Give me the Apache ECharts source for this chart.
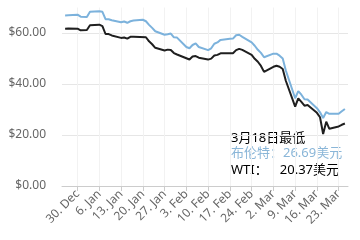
<!DOCTYPE html>
<html>
<head>
<meta charset="utf-8">
<script src="https://cdn.jsdelivr.net/npm/echarts@6/dist/echarts.min.js"></script>
<style>html,body{margin:0;padding:0;background:#fff;}#c{width:360px;height:240px;}</style>
</head>
<body>
<div id="c"></div>
<script>
var tradeDates = ['12-26','12-27','12-30','12-31','01-02','01-03','01-06','01-07','01-08','01-09','01-10','01-13','01-14','01-15','01-16','01-17','01-20','01-21','01-22','01-23','01-24','01-27','01-28','01-29','01-30','01-31','02-03','02-04','02-05','02-06','02-07','02-10','02-11','02-12','02-13','02-14','02-17','02-18','02-19','02-20','02-21','02-24','02-25','02-26','02-27','02-28','03-02','03-03','03-04','03-05','03-06','03-09','03-10','03-11','03-12','03-13','03-16','03-17','03-18','03-19','03-20','03-23','03-24','03-25'];
var brent = [66.9,67.0,67.2,66.4,66.3,68.3,68.5,68.3,65.4,65.4,65.0,64.2,64.5,64.0,64.6,64.9,65.2,64.6,63.2,62.0,60.7,59.3,59.5,59.8,58.3,58.2,54.5,54.0,55.3,55.9,54.5,53.3,54.0,55.8,56.3,57.3,57.7,57.8,59.1,59.3,58.5,56.3,55.0,53.4,52.2,50.5,51.9,51.9,51.1,50.0,45.3,34.4,37.2,35.8,34.0,33.9,30.5,28.9,26.69,29.0,28.3,28.3,29.3,30.2];
var wti = [61.68,61.72,61.68,61.06,61.18,63.05,63.27,62.70,59.61,59.56,59.04,58.08,58.23,57.81,58.52,58.54,null,58.34,56.74,55.59,54.19,53.14,53.48,53.33,52.14,51.56,50.11,49.61,50.75,50.95,50.32,49.57,49.94,51.17,51.42,52.05,null,52.05,53.29,53.78,53.38,51.43,49.90,48.73,47.09,44.76,46.75,47.18,46.78,45.90,41.28,31.13,34.36,32.98,31.50,31.73,28.70,26.95,20.37,25.22,22.43,23.36,24.01,24.49];
var yTicks = [0, 20, 40, 60];
var noteTitle = '3月18日最低';
var noteBrent = '布伦特：26.69美元';
var noteWtiName = 'WTI：';
var noteWtiValue = '20.37美元';

var monthNames = ['Jan','Feb','Mar','Apr','May','Jun','Jul','Aug','Sep','Oct','Nov','Dec'];
var categories = [], catLabels = [], isMonday = [];
var start = Date.UTC(2019, 11, 25);
for (var i = 0; i < 93; i++) {
  var d = new Date(start + i * 86400000);
  var mm = ('0' + (d.getUTCMonth() + 1)).slice(-2), dd = ('0' + d.getUTCDate()).slice(-2);
  categories.push(mm + '-' + dd);
  catLabels.push(d.getUTCDate() + '. ' + monthNames[d.getUTCMonth()]);
  isMonday.push(d.getUTCDay() === 1);
}
function seriesData(vals) {
  var map = {};
  tradeDates.forEach(function (k, i) { map[k] = vals[i]; });
  return categories.map(function (k) { return map.hasOwnProperty(k) ? map[k] : null; });
}
var monFn = function (idx) { return isMonday[idx]; };
var font = '"Noto Sans", "Noto Sans CJK SC", sans-serif';

var chart = echarts.init(document.getElementById('c'), null, {renderer: 'canvas'});
chart.setOption({
  animation: false,
  grid: {left: 62, right: 12, top: 7.5, bottom: 54},
  xAxis: {
    type: 'category', data: categories, boundaryGap: false,
    axisLine: {lineStyle: {color: '#cccccc'}},
    axisTick: {interval: monFn, length: 5, lineStyle: {color: '#cccccc'}},
    axisLabel: {interval: monFn, rotate: 45, fontSize: 12, color: '#666666', fontFamily: font, margin: 6,
      formatter: function (v, idx) { return catLabels[idx]; }},
    splitLine: {show: true, interval: monFn, lineStyle: {color: '#f2f2f2'}}
  },
  yAxis: {
    type: 'value', min: 0, max: 70, interval: 20,
    axisLine: {show: false}, axisTick: {show: false},
    axisLabel: {showMaxLabel: false, fontSize: 12, color: '#666666', fontFamily: font, margin: 16,
      formatter: function (v) { return yTicks.indexOf(v) >= 0 ? '$' + v.toFixed(2) : ''; }},
    splitLine: {showMaxLine: false, lineStyle: {color: '#e6e6e6'}}
  },
  series: [
    {type: 'line', name: 'Brent', data: seriesData(brent), connectNulls: true, showSymbol: false,
      lineStyle: {color: '#7cb2dc', width: 2}, itemStyle: {color: '#7cb2dc'}},
    {type: 'line', name: 'WTI', data: seriesData(wti), connectNulls: true, showSymbol: false,
      lineStyle: {color: '#1f1f1f', width: 2}, itemStyle: {color: '#1f1f1f'}}
  ],
  graphic: [
    {type: 'text', left: 231, top: 132, style: {text: noteTitle, font: '13px ' + font, fill: '#000000'}},
    {type: 'text', left: 231, top: 147, style: {text: noteBrent, font: '13px ' + font, fill: '#8ab6d8'}},
    {type: 'text', left: 231, top: 164, style: {text: noteWtiName, font: '13px ' + font, fill: '#000000'}},
    {type: 'text', right: 21, top: 164, style: {text: noteWtiValue, font: '13px ' + font, fill: '#000000'}}
  ]
});
</script>
</body>
</html>
